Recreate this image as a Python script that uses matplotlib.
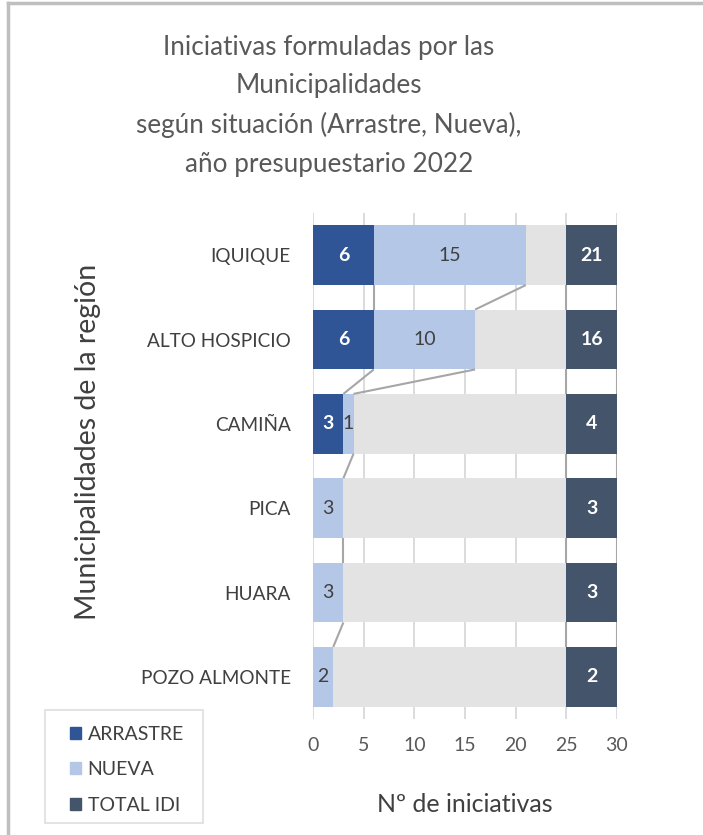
import matplotlib.pyplot as plt
from matplotlib.patches import Patch, Rectangle
from matplotlib.lines import Line2D

plt.rcParams['font.family'] = ['Lato', 'DejaVu Sans']

municipios = ["IQUIQUE", "ALTO HOSPICIO", "CAMIÑA", "PICA", "HUARA", "POZO ALMONTE"]
arrastre = [6, 6, 3, 0, 0, 0]
nueva = [15, 10, 1, 3, 3, 2]
total_idi = [21, 16, 4, 3, 3, 2]
tope = 25

c_arr = "#2F5597"
c_nue = "#B4C7E7"
c_rel = "#E3E3E3"
c_tot = "#44546A"
c_sl = "#A6A6A6"
c_txt = "#404040"

fig = plt.figure(figsize=(7.03, 8.35), dpi=100)
ax = fig.add_axes([0.4452, 0.1389, 0.4324, 0.6060])

y = list(range(len(municipios)))
h = 0.71
acum = [a + n for a, n in zip(arrastre, nueva)]
relleno = [tope - s for s in acum]

ax.barh(y, arrastre, height=h, color=c_arr, zorder=2)
ax.barh(y, nueva, left=arrastre, height=h, color=c_nue, zorder=2)
ax.barh(y, relleno, left=acum, height=h, color=c_rel, zorder=2)
ax.barh(y, [5] * len(y), left=tope, height=h, color=c_tot, zorder=2)

# series lines (Excel style), none for empty segments
for serie in (arrastre, acum, [tope] * 6, [tope + 5] * 6):
    for i in range(len(y) - 1):
        if serie[i] == 0 or serie[i + 1] == 0:
            continue
        ax.plot([serie[i], serie[i + 1]], [i + h / 2, i + 1 - h / 2],
                color=c_sl, lw=1.5, zorder=3, solid_capstyle='butt')

for i in y:
    if arrastre[i] > 0:
        ax.text(arrastre[i] / 2, i, str(arrastre[i]), ha='center', va='center',
                color='white', fontsize=14, fontweight='bold', zorder=4)
    if nueva[i] > 0:
        ax.text(arrastre[i] + nueva[i] / 2, i, str(nueva[i]), ha='center', va='center',
                color=c_txt, fontsize=14, zorder=4)
    ax.text(tope + 2.5, i, str(total_idi[i]), ha='center', va='center',
            color='white', fontsize=14, fontweight='bold', zorder=4)

ax.set_xlim(0, 30)
ax.set_ylim(len(y) - 0.5, -0.5)
ax.set_xticks(range(0, 31, 5))
ax.set_yticks(y)
ax.set_yticklabels(municipios, fontsize=13.7, color=c_txt)
ax.tick_params(axis='x', labelsize=14, labelcolor="#595959", length=0, pad=13)
ax.tick_params(axis='y', length=0, pad=16)
ax.grid(axis='x', color="#D9D9D9", lw=1.3, zorder=0)
for s in ax.spines.values():
    s.set_visible(False)

ax.set_xlabel("Nº de iniciativas", fontsize=18, color=c_txt, labelpad=28)
fig.text(0.125, 0.471, "Municipalidades de la región", rotation=90,
         ha='center', va='center', fontsize=20.5, color=c_txt)

fig.text(0.468, 0.958, "Iniciativas formuladas por las\nMunicipalidades\n"
         "según situación (Arrastre, Nueva),\naño presupuestario 2022",
         ha='center', va='top', fontsize=18.8, color="#595959", linespacing=1.66)

# legend box drawn separately so the inner padding matches
fig.add_artist(Rectangle((0.064, 0.0144), 0.2248, 0.1353, transform=fig.transFigure,
                         facecolor='white', edgecolor="#E0E0E0", lw=1.3))
handles = [Patch(color=c_arr), Patch(color=c_nue), Patch(color=c_tot)]
leg = fig.legend(handles, ["ARRASTRE", "NUEVA", "TOTAL IDI"],
                 loc='lower left', bbox_to_anchor=(0.0858, 0.014),
                 frameon=False, fontsize=14, handlelength=0.55, handleheight=0.55,
                 handletextpad=0.35, labelspacing=0.95, borderpad=0.5,
                 borderaxespad=0)
for t in leg.get_texts():
    t.set_color(c_txt)

# chart frame: top and left edges
fig.add_artist(Line2D([0.012, 1.0], [0.996, 0.996], color="#BFBFBF", lw=2.5))
fig.add_artist(Line2D([0.012, 0.012], [0.0, 0.996], color="#BFBFBF", lw=2.5))

fig.savefig("out.png", dpi=100)
